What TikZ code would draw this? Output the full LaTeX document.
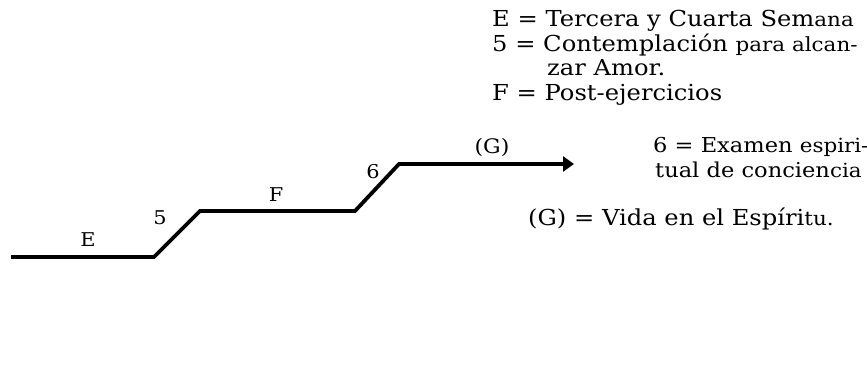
\documentclass[tikz,border=0pt]{standalone}
\usepackage{fontspec}
\setmainfont[FakeStretch=1.1]{DejaVu Serif}
\usetikzlibrary{arrows.meta}
\newcommand{\smw}[1]{{\fontsize{19.5}{21}\selectfont #1}}
\begin{document}
\begin{tikzpicture}[x=1pt,y=-1pt,
  stepline/.style={line width=3.8pt,line join=miter},
  lbl/.style={inner sep=0pt,font=\fontsize{19}{22}\selectfont},
  txt/.style={inner sep=0pt,anchor=base west,font=\fontsize{22}{25}\selectfont},
  txtb/.style={txt,font=\fontsize{20.5}{23}\selectfont}]
\useasboundingbox (0,0) rectangle (867,385);
\coordinate (s0) at (11,257);
\coordinate (s1) at (154,257);
\coordinate (s2) at (200,211);
\coordinate (s3) at (355,211);
\coordinate (s4) at (399,164);
\coordinate (s5) at (574,164);
\draw[stepline,-{Triangle[length=11pt,width=15pt]}] (s0) -- (s1) -- (s2) -- (s3) -- (s4) -- (s5);
\node[lbl] (lE) at (88,240) {E};
\node[lbl] (l5) at (160,218) {5};
\node[lbl] (lF) at (276,195) {F};
\node[lbl] (l6) at (373,172) {6};
\node[lbl,font=\fontsize{20}{22}\selectfont] (lG) at (492,147) {(G)};
\node[txt] (t1) at (492,27) {E = Tercera y Cuarta Sem\smw{ana}};
\node[txt] (t2) at (492,52) {5 = Contemplación \smw{para alcan-}};
\node[txt] (t3) at (547,76) {zar Amor.};
\node[txt] (t4) at (492,101) {F = Post-ejercicios};
\node[txtb] (t5) at (653,153) {6 = Examen \smw{espiri-}};
\node[txtb] (t6) at (655,177) {tual de concien\smw{cia}};
\node[txt] (t7) at (528,225) {(G) = Vida en el Espíri\smw{tu.}};
\end{tikzpicture}
\end{document}
